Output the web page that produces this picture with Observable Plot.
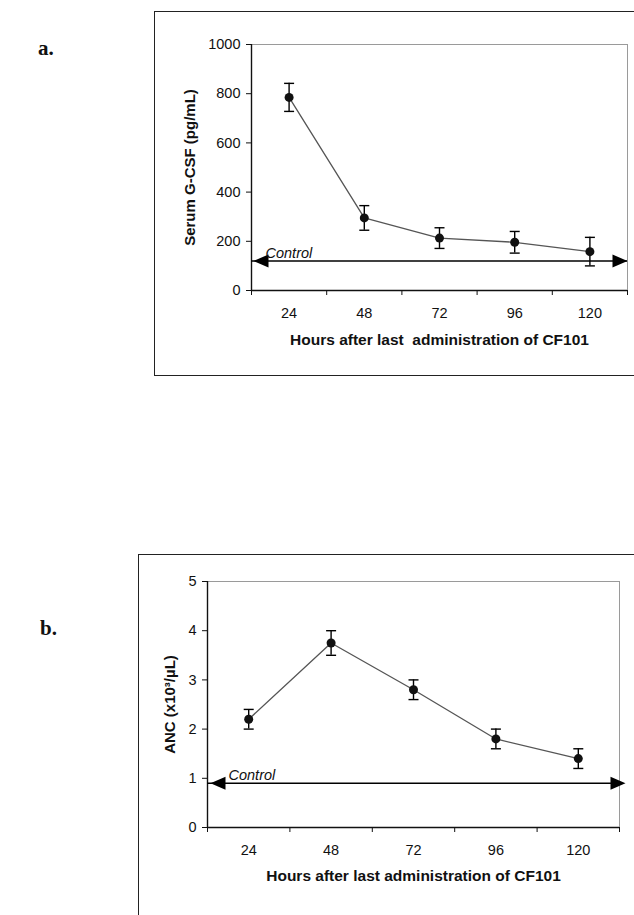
<!DOCTYPE html>
<html>
<head>
<meta charset="utf-8">
<script src="https://cdn.jsdelivr.net/npm/d3@7"></script>
<script src="https://cdn.jsdelivr.net/npm/@observablehq/plot@0.6"></script>
<style>
  html, body { margin: 0; padding: 0; background: #fff; }
  #wrap { position: relative; width: 634px; height: 915px; overflow: hidden; background: #fff; font-family: "Liberation Sans", Arial, sans-serif; }
  .box { position: absolute; border: 1.5px solid #222; box-sizing: border-box; }
  .tag { position: absolute; font-family: "Liberation Serif", "Times New Roman", serif; font-weight: bold; font-size: 21px; color: #111; }
  .chart { position: absolute; left: 0; }
</style>
</head>
<body>
<div id="wrap">
  <div class="box" style="left:154px; top:11px; width:500px; height:365px;"></div>
  <div class="box" style="left:138px; top:554px; width:520px; height:400px;"></div>
  <div class="tag" style="left:38px; top:36px;">a.</div>
  <div class="tag" style="left:40px; top:616px;">b.</div>
  <div class="chart" id="ca" style="top:0px;"></div>
  <div class="chart" id="cb" style="top:540px;"></div>
</div>
<script>
// ---- data ----
const hours = [24, 48, 72, 96, 120];
const categoryEdges = [12, 36, 60, 84, 108, 132];

const gcsfMean = [785, 295, 213, 196, 158];
const gcsfErr  = [57, 50, 42, 44, 58];
const gcsfControl = 120;
const gcsfTicks = [0, 200, 400, 600, 800, 1000];

const ancMean = [2.2, 3.75, 2.8, 1.8, 1.4];
const ancErr  = [0.2, 0.25, 0.2, 0.2, 0.2];
const ancControl = 0.9;
const ancTicks = [0, 1, 2, 3, 4, 5];

const xTitleA = "Hours after last  administration of CF101";
const yTitleA = "Serum G-CSF (pg/mL)";
const xTitleB = "Hours after last administration of CF101";
const yTitleB = "ANC (x10³/µL)";
const controlLabel = "Control";

// ---- symbols ----
const capSymbol = { draw(ctx) { ctx.moveTo(-5, 0); ctx.lineTo(5, 0); } };
const headRight = { draw(ctx) { ctx.moveTo(0, 0); ctx.lineTo(-15, -6.5); ctx.lineTo(-15, 6.5); ctx.closePath(); } };
const headLeft  = { draw(ctx) { ctx.moveTo(0, 0); ctx.lineTo(15, -6.5); ctx.lineTo(15, 6.5); ctx.closePath(); } };

function panel(opts) {
  const rows = hours.map((h, i) => ({ h, v: opts.mean[i], lo: opts.mean[i] - opts.err[i], hi: opts.mean[i] + opts.err[i] }));
  const x0 = categoryEdges[0], x1 = categoryEdges[categoryEdges.length - 1];
  const yMax = opts.ticks[opts.ticks.length - 1];
  return Plot.plot({
    width: 634,
    height: opts.height,
    marginTop: opts.mt, marginBottom: opts.mb, marginLeft: opts.ml, marginRight: opts.mr,
    style: { background: "transparent", fontFamily: "'Liberation Sans', Arial, sans-serif", fontSize: "14px", color: "#111", overflow: "visible" },
    x: { domain: [x0, x1] },
    y: { domain: [0, yMax] },
    marks: [
      Plot.frame({ stroke: "#9a9a9a", strokeWidth: 1 }),
      Plot.axisY({ ticks: opts.ticks, tickFormat: d3.format("d"), tickSize: 5, tickPadding: 6, label: null, fontSize: 14.5, stroke: "#111" }),
      Plot.axisX({ ticks: hours, tickFormat: d3.format("d"), tickSize: 0, tickPadding: 17, label: null, fontSize: 14.5 }),
      Plot.axisX({ ticks: categoryEdges, tickSize: 5, tickFormat: () => "", label: null, stroke: "#111" }),
      Plot.ruleX([x0], { stroke: "#111", strokeWidth: 1.4 }),
      Plot.ruleY([0], { stroke: "#111", strokeWidth: 1.4 }),
      // control arrow
      Plot.ruleY([opts.control], { x1: x0, x2: x1, stroke: "#000", strokeWidth: 1.6 }),
      Plot.dot([opts.control], { x: () => x0, y: d => d, dx: opts.leftDx, symbol: headLeft, fill: "#000", stroke: "none" }),
      Plot.dot([opts.control], { x: () => x1, y: d => d, dx: opts.rightDx, symbol: headRight, fill: "#000", stroke: "none" }),
      Plot.text([controlLabel], { text: d => d, x: () => x0, y: () => opts.control, dx: opts.ctrlDx, dy: -3, textAnchor: "start", lineAnchor: "bottom", fontStyle: "italic", fontSize: 14.5, fill: "#111" }),
      // series
      Plot.line(rows, { x: "h", y: "v", stroke: "#555", strokeWidth: 1.3 }),
      Plot.ruleX(rows, { x: "h", y1: "lo", y2: "hi", stroke: "#000", strokeWidth: 1.4 }),
      Plot.dot(rows, { x: "h", y: "lo", symbol: capSymbol, stroke: "#000", strokeWidth: 1.4 }),
      Plot.dot(rows, { x: "h", y: "hi", symbol: capSymbol, stroke: "#000", strokeWidth: 1.4 }),
      Plot.dot(rows, { x: "h", y: "v", r: 4.5, fill: "#111", stroke: "none" }),
      // titles
      Plot.text([opts.xTitle], { text: d => d, frameAnchor: "bottom", dy: opts.xTitleDy, textAnchor: "middle", fontWeight: "bold", fontSize: 15.5, lineAnchor: "middle", fill: "#111" }),
      Plot.text([opts.yTitle], { text: d => d, frameAnchor: "left", dx: opts.yTitleDx, rotate: -90, textAnchor: "middle", fontWeight: "bold", fontSize: 15, lineAnchor: "middle", fill: "#111" })
    ]
  });
}

document.getElementById("ca").append(panel({
  mean: gcsfMean, err: gcsfErr, control: gcsfControl, ticks: gcsfTicks,
  height: 390, mt: 44, mb: 100, ml: 251, mr: 7,
  leftDx: 2, rightDx: 0, ctrlDx: 14,
  xTitle: xTitleA, yTitle: yTitleA, xTitleDy: 50, yTitleDx: -61
}));

document.getElementById("cb").append(panel({
  mean: ancMean, err: ancErr, control: ancControl, ticks: ancTicks,
  height: 375, mt: 41, mb: 88, ml: 207, mr: 15,
  leftDx: 3, rightDx: 6, ctrlDx: 21,
  xTitle: xTitleB, yTitle: yTitleB, xTitleDy: 49, yTitleDx: -37
}));
</script>
</body>
</html>
